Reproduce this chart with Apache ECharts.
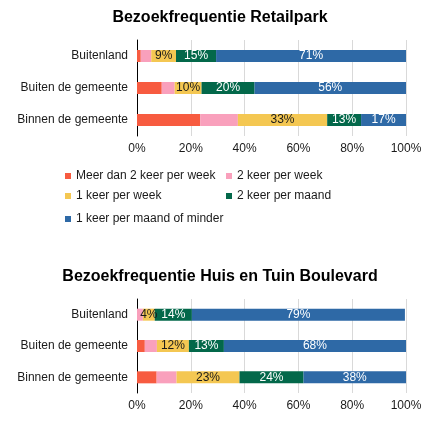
<!DOCTYPE html>
<html lang="nl">
<head>
    <meta charset="UTF-8">
    <title>Bezoekfrequentie</title>
    <script src="https://cdn.jsdelivr.net/npm/echarts@6/dist/echarts.min.js"></script>
    <style>
        html, body { margin: 0; padding: 0; background: #fff; }
        #chart { width: 440px; height: 421px; }
    </style>
</head>
<body>
<div id="chart"></div>
<script type="text/javascript">
    // categorieen (van boven naar beneden)
    var herkomst = ['Buitenland', 'Buiten de gemeente', 'Binnen de gemeente'];
    var frequenties = ['Meer dan 2 keer per week', '2 keer per week', '1 keer per week', '2 keer per maand', '1 keer per maand of minder'];
    var xTicks = [0, 20, 40, 60, 80, 100];

    // Retailpark, percentages per herkomst
    var retailMeer = [1.4, 9.2, 23.5];
    var retail2Week = [3.9, 4.8, 14.0];
    var retail1Week = [9.2, 10.0, 33.2];
    var retail2Maand = [14.9, 19.7, 12.6];
    var retail1Maand = [70.6, 56.3, 16.7];

    // Huis en Tuin Boulevard
    var htbMeer = [0, 2.9, 7.3];
    var htb2Week = [2.2, 4.5, 7.4];
    var htb1Week = [4.4, 11.9, 23.4];
    var htb2Maand = [13.8, 13.0, 23.8];
    var htb1Maand = [79.2, 67.8, 38.1];

    var kleuren = ['#F75B40', '#F9A0BC', '#F4C752', '#03684A', '#2E69A6'];
    var labelKleur = [null, null, '#1a1a1a', '#ffffff', '#ffffff'];
    var font = '"Liberation Sans", Arial, sans-serif';

    var myChart = echarts.init(document.getElementById('chart'));

    function maakSeries(reeksen, idx) {
        return reeksen.map(function (data, i) {
            return {
                name: frequenties[i],
                type: 'bar',
                stack: 'totaal' + idx,
                xAxisIndex: idx,
                yAxisIndex: idx,
                barWidth: 12,
                itemStyle: { color: kleuren[i] },
                label: {
                    show: labelKleur[i] !== null,
                    position: 'inside',
                    color: labelKleur[i] || '#000',
                    textBorderWidth: 0,
                    fontFamily: font,
                    fontSize: 12,
                    formatter: function (p) { return Math.round(p.value) + '%'; }
                },
                emphasis: { disabled: true },
                data: data
            };
        });
    }

    function xAs(idx) {
        return {
            type: 'value',
            gridIndex: idx,
            min: xTicks[0],
            max: xTicks[xTicks.length - 1],
            interval: xTicks[1] - xTicks[0],
            axisLine: { show: false },
            axisTick: { show: false },
            axisLabel: { formatter: '{value}%', color: '#1a1a1a', fontSize: 12, fontFamily: font, margin: 7 },
            splitLine: { lineStyle: { color: '#d9d9d9' } }
        };
    }

    function yAs(idx) {
        return {
            type: 'category',
            gridIndex: idx,
            inverse: true,
            data: herkomst,
            axisLine: { lineStyle: { color: '#000', width: 1 } },
            axisTick: { show: false },
            axisLabel: { color: '#1a1a1a', fontSize: 12, fontFamily: font, margin: 9 }
        };
    }

    // legenda-items los geplaatst
    var legendPos = [[65, 170], [226, 170], [65, 190], [226, 190], [65, 213]];
    var legends = frequenties.map(function (naam, i) {
        return {
            data: [naam],
            left: legendPos[i][0],
            top: legendPos[i][1],
            icon: 'rect',
            itemWidth: 6,
            itemHeight: 6,
            itemGap: 0,
            padding: 0,
            selectedMode: false,
            textStyle: { color: '#1a1a1a', fontSize: 12, fontFamily: font }
        };
    });

    myChart.setOption({
        animation: false,
        title: [
            {
                text: 'Bezoekfrequentie Retailpark',
                left: 'center',
                top: 5,
                textStyle: { fontSize: 16, fontWeight: 'bold', color: '#000', fontFamily: font }
            },
            {
                text: 'Bezoekfrequentie Huis en Tuin Boulevard',
                left: 'center',
                top: 264,
                textStyle: { fontSize: 16, fontWeight: 'bold', color: '#000', fontFamily: font }
            }
        ],
        legend: legends,
        grid: [
            { left: 137, width: 269, top: 40, height: 96 },
            { left: 137, width: 269, top: 299, height: 94 }
        ],
        xAxis: [xAs(0), xAs(1)],
        yAxis: [yAs(0), yAs(1)],
        series: maakSeries([retailMeer, retail2Week, retail1Week, retail2Maand, retail1Maand], 0)
            .concat(maakSeries([htbMeer, htb2Week, htb1Week, htb2Maand, htb1Maand], 1))
    });
</script>
</body>
</html>
